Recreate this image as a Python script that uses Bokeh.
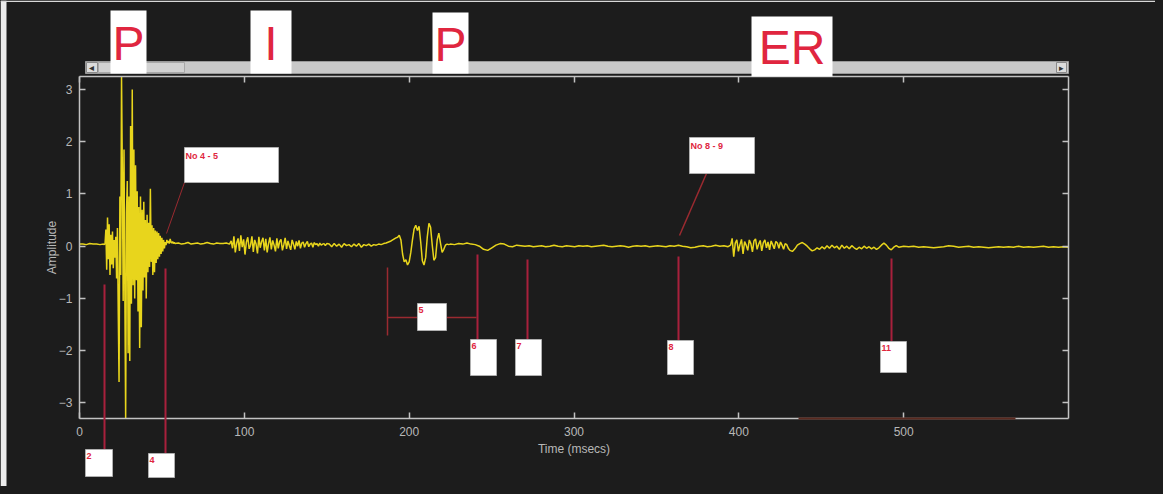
import numpy as np
from bokeh.plotting import figure
from bokeh.models import LinearAxis, FixedTicker, BoxAnnotation, PolyAnnotation, Label, Range1d
from bokeh.embed import file_html
from bokeh.resources import INLINE

# ---------------- data ----------------
x_ticks = [0, 100, 200, 300, 400, 500]
y_ticks = [-3, -2, -1, 0, 1, 2, 3]

# each segment: start time, end time (ms), amplitude samples
pre_t = (0.0, 14.5)
pre_amp = [0.04, 0.04, 0.03, 0.05, 0.04, 0.04, 0.03, 0.04]

onset_t = (15.0, 58.0)
onset_amp = [0.03, 0.05, 0.32, -0.45, 0.55, -0.25, 0.42, -0.55, 0.22, -0.35,
             0.28, -0.42, 0.12, -0.22, 0.18, -0.62, 0.35, -1.25, -2.6, 0.95,
             -0.55, 3.25, 1.45, -1.05, 1.85, -0.85, -3.3, 0.65, 1.25, -2.05,
             0.95, -2.2, 2.3, -1.1, 3.0, -0.75, 1.85, -1.0, 1.55, -0.65,
             1.05, -1.25, 0.75, -1.95, 0.95, -1.55, 0.7, -0.85, 0.85, -0.6,
             0.5, -1.0, 0.6, -0.5, 0.45, -0.4, 1.1, -0.3, 0.4, -0.55,
             0.35, -0.5, 0.3, -0.32, 0.28, -0.25, 0.25, -0.2, 0.2, -0.15,
             0.16, -0.1, 0.12, -0.04, 0.08, 0.02, 0.12, 0.06, 0.1, 0.05,
             0.14, 0.08, 0.06, 0.09, 0.05, 0.07, 0.05]

quiet1_t = (60.0, 91.0)
quiet1_amp = [0.06, 0.04, 0.05, 0.07, 0.04, 0.05, 0.06, 0.04, 0.05, 0.07,
              0.05, 0.04, 0.06, 0.05, 0.05, 0.06, 0.04]

noise1_t = (92.0, 150.0)
noise1_amp = [0.10, -0.04, 0.19, -0.12, 0.06, 0.15, -0.09, 0.21, -0.02, 0.13,
              -0.16, 0.08, 0.17, -0.05, 0.02, 0.19, -0.11, 0.12, 0.04, -0.14,
              0.18, -0.03, 0.09, 0.16, -0.08, 0.14, -0.12, 0.05, 0.17, -0.06,
              0.11, 0.02, -0.10, 0.15, -0.04, 0.09, 0.13, -0.08, 0.03, 0.16,
              -0.05, 0.10, 0.01, -0.07, 0.12, 0.04, -0.06, 0.09, 0.00, 0.11,
              -0.04, 0.06, 0.08, -0.02, 0.05, 0.09, -0.01, 0.04, 0.06, -0.02,
              0.07, 0.03, 0.05, 0.00, 0.06, 0.02, 0.04, 0.05, 0.01, 0.05]

quiet2_t = (151.5, 192.0)
quiet2_amp = [0.04, -0.01, 0.05, 0.0, 0.04, -0.02, 0.05, 0.01, 0.03, -0.01,
              0.04, 0.0, 0.05, -0.02, 0.03, 0.01, 0.04, 0.0, 0.03, 0.02,
              0.04, 0.03, 0.05, 0.06, 0.08, 0.10, 0.13, 0.16]

burst2_t = (193.0, 224.0)
burst2_amp = [0.17, 0.21, 0.12, -0.15, -0.30, -0.26, -0.36, -0.30, -0.12, 0.12,
              0.33, 0.40, 0.30, 0.38, 0.08, -0.28, -0.36, -0.22, 0.18, 0.44,
              0.36, 0.02, -0.27, -0.22, 0.12, 0.25, 0.06, -0.12, -0.06, 0.02,
              0.04, 0.03]

tail1_t = (225.0, 393.5)
tail1_amp = [0.04, 0.03, 0.05, 0.04, 0.06, 0.04, 0.03, 0.0, -0.06, -0.08,
             -0.03, 0.02, 0.05, 0.04, 0.0, -0.01, 0.02, 0.01, 0.0, 0.01,
             -0.01, 0.0, 0.01, -0.01, 0.0, 0.02, 0.0, -0.01, 0.01, 0.0,
             -0.01, 0.01, 0.0, 0.01, -0.01, 0.0, 0.01, 0.02, 0.0, -0.01,
             0.0, 0.01, 0.0, -0.02, 0.0, 0.01, 0.0, 0.01, -0.01, 0.0,
             0.01, 0.0, -0.01, 0.01, 0.0, 0.02, 0.0, -0.01, -0.03, -0.02,
             0.0, 0.01, -0.01, 0.0, 0.02, 0.0, 0.01, -0.01]

burst3_t = (395.0, 430.0)
burst3_amp = [0.02, 0.15, -0.20, 0.06, 0.12, -0.10, 0.03, 0.13, -0.15, 0.09,
              0.02, -0.08, 0.12, 0.05, -0.11, 0.10, 0.14, -0.06, 0.04, 0.11,
              -0.09, 0.07, 0.12, -0.03, 0.08, -0.07, 0.10, 0.03, -0.05, 0.09,
              0.06, -0.04, 0.08, 0.02, -0.06, 0.05, 0.03, -0.04]

tail2_t = (431.0, 495.5)
tail2_amp = [-0.08, -0.10, -0.05, 0.02, 0.05, 0.07, 0.04, 0.0, -0.05, -0.09,
             -0.07, -0.03, -0.06, -0.01, -0.05, 0.01, -0.04, 0.02, -0.03, 0.0,
             -0.06, 0.02, -0.04, 0.0, -0.05, 0.01, -0.03, -0.06, -0.02, -0.05,
             0.0, -0.04, -0.01, -0.05, -0.02, -0.06, -0.03, 0.02, 0.06, 0.02,
             -0.04, -0.07, -0.02, 0.01]

tail3_t = (497.0, 600.0)
tail3_amp = [-0.02, 0.0, -0.01, 0.0, -0.02, -0.01, -0.02, -0.03, -0.02, -0.01,
             0.01, 0.0, -0.02, -0.01, 0.0, -0.02, -0.01, -0.02, -0.03, -0.02,
             -0.01, -0.02, -0.01, -0.02, 0.0, -0.02, -0.01, -0.02, -0.01, 0.0,
             -0.02, -0.01, -0.02, -0.01, -0.02]

segments = [(pre_t, pre_amp), (onset_t, onset_amp), (quiet1_t, quiet1_amp),
            (noise1_t, noise1_amp), (quiet2_t, quiet2_amp), (burst2_t, burst2_amp),
            (tail1_t, tail1_amp), (burst3_t, burst3_amp), (tail2_t, tail2_amp),
            (tail3_t, tail3_amp)]

time_ms = np.concatenate([np.linspace(a, b, len(v)) for (a, b), v in segments])
amplitude = np.concatenate([np.array(v, dtype=float) for _, v in segments])

marker_labels = ["2", "4", "6", "7", "8", "11"]
letters = ["P", "I", "P", "ER"]

# ---------------- layout constants (canvas pixels) ----------------
W, H = 1155, 486
AX_L, AX_R, AX_T, AX_B = 79, 1068, 76, 418
XMIN, XMAX, YMIN, YMAX = 0, 600, -3.3, 3.25


def X(px):
    return XMIN + (px - AX_L) * (XMAX - XMIN) / (AX_R - AX_L)


def Y(py):
    return YMAX - (py - AX_T) * (YMAX - YMIN) / (AX_B - AX_T)


BG = "#1c1c1c"
GRAY = "#c2c2c2"
YEL = "#e8d51c"
RED = "#e0263f"
MRED = "#a8203c"
CRED = "#9a2a30"

p = figure(width=W, height=H, output_backend="svg", toolbar_location=None,
           x_range=Range1d(X(0), X(W)), y_range=Range1d(Y(H), Y(0)),
           x_axis_location=None, y_axis_location=None,
           min_border=0, min_border_left=0, min_border_right=0,
           min_border_top=0, min_border_bottom=0)
p.background_fill_color = BG
p.border_fill_color = BG
p.outline_line_color = None
p.grid.visible = False

ax_below = LinearAxis(fixed_location=YMIN, bounds=(XMIN, XMAX), axis_label="Time (msecs)",
                      ticker=FixedTicker(ticks=x_ticks))
ax_above = LinearAxis(fixed_location=YMAX, bounds=(XMIN, XMAX), ticker=FixedTicker(ticks=x_ticks))
ax_left = LinearAxis(fixed_location=XMIN, bounds=(YMIN, YMAX), axis_label="Amplitude",
                     ticker=FixedTicker(ticks=y_ticks))
ax_right = LinearAxis(fixed_location=XMAX, bounds=(YMIN, YMAX), ticker=FixedTicker(ticks=y_ticks))
p.add_layout(ax_below, "below")
p.add_layout(ax_above, "above")
p.add_layout(ax_left, "left")
p.add_layout(ax_right, "right")

for ax in (ax_below, ax_above, ax_left, ax_right):
    ax.axis_line_color = GRAY
    ax.axis_line_width = 1.5
    ax.major_tick_line_color = GRAY
    ax.major_tick_line_width = 1.5
    ax.major_tick_in = 6
    ax.major_tick_out = 0
    ax.minor_tick_line_color = None
    ax.major_label_text_color = "#b8b8b8"
    ax.major_label_text_font = "Liberation Sans"
    ax.major_label_text_font_size = "12px"
    ax.axis_label_text_color = "#b8b8b8"
    ax.axis_label_text_font = "Liberation Sans"
    ax.axis_label_text_font_size = "12px"
    ax.axis_label_text_font_style = "normal"
ax_below.major_label_standoff = 8
ax_below.axis_label_standoff = 3
ax_left.major_label_standoff = 7
ax_left.axis_label_standoff = -3
for ax in (ax_above, ax_right):
    ax.major_label_text_color = None
    ax.major_label_text_font_size = "1px"

# signal
p.line(time_ms, amplitude, line_color=YEL, line_width=1.5)


def box(x0, y0, x1, y1, fill="white", line="#b0b0b0", lw=1):
    p.add_layout(BoxAnnotation(left=X(x0), right=X(x1), top=Y(y0), bottom=Y(y1),
                               fill_color=fill, fill_alpha=1, line_color=line,
                               line_alpha=1 if line else 0, line_width=lw))


def seg(x0, y0, x1, y1, color=MRED, lw=2):
    p.add_layout(PolyAnnotation(xs=[X(x0), X(x1)], ys=[Y(y0), Y(y1)],
                                fill_color=None, fill_alpha=0,
                                line_color=color, line_width=lw, line_alpha=1))


def label(px, py, text, size="10px", color=RED, align="left", baseline="top", style="bold"):
    p.add_layout(Label(x=X(px), y=Y(py), text=text, text_color=color,
                       text_font="Liberation Sans", text_font_size=size,
                       text_font_style=style, text_align=align, text_baseline=baseline))


# scanned page edges
box(0, 0, 6, H, fill="#ececec", line=None)
box(0, 0, W, 1.5, fill="#d8d8d8", line=None)

# scroll bar above the axes
box(85, 61, 1068, 73, fill="#c9c9c9", line="#9a9a9a")
box(98, 62, 184, 72, fill="#d2d2d2", line="#a8a8a8")
box(86, 62, 97, 72, fill="#dcdcdc", line="#8a8a8a")
box(1056, 62, 1066, 72, fill="#dcdcdc", line="#8a8a8a")
label(91, 67, "\u25c2", size="10px", color="#333333", align="center", baseline="middle", style="normal")
label(1061, 67, "\u25b8", size="9px", color="#333333", align="center", baseline="middle", style="normal")

# big letters on white boxes
for (bx0, by0, bx1, by1), txt in zip([(110, 10, 146, 73), (250, 10, 291, 73),
                                      (432, 12, 468, 73), (751, 16, 832, 76)], letters):
    box(bx0, by0, bx1, by1, fill="white", line=None)
    label((bx0 + bx1) / 2, (by0 + by1) / 2 + 1, txt, size="48px", color=RED,
          align="center", baseline="middle", style="normal")

# dark red segment along bottom axis
seg(798, 418, 1015, 418, color="#5a2a20", lw=2)

# call-out boxes
seg(184, 182, 166, 233, color=CRED, lw=1)
box(184, 147, 278, 182)
label(185, 150, "No 4 - 5", size="9px")
seg(706, 173, 679, 235, color=CRED, lw=1.5)
box(689, 137, 754, 173)
label(690, 140, "No 8 - 9", size="9px")

# bracket with box 5
seg(387, 267, 387, 335, color=CRED, lw=1.5)
seg(387, 317, 418, 317, color=CRED, lw=1.5)
seg(445, 317, 476, 317, color=CRED, lw=1.5)
box(417, 303, 446, 330)
label(418, 306, "5", size="9px")

# marker lines with numbered boxes
markers = [(104, 284, 450, (85, 449, 112, 476)),
           (165, 268, 455, (148, 453, 174, 477)),
           (477, 254, 340, (470, 339, 496, 375)),
           (527, 259, 340, (515, 339, 541, 375)),
           (678, 256, 341, (667, 340, 693, 374)),
           (891, 258, 342, (880, 341, 906, 372))]
for (mx, my0, my1, (bx0, by0, bx1, by1)), txt in zip(markers, marker_labels):
    seg(mx, my0, mx, my1)
    box(bx0, by0, bx1, by1)
    label(bx0 + 1, by0 + 3, txt, size="9px")

html = file_html(p, INLINE)
html = html.replace("</head>", "<style>html,body{background:#1c1c1c;}</style></head>", 1)
open("out.html", "w").write(html)
